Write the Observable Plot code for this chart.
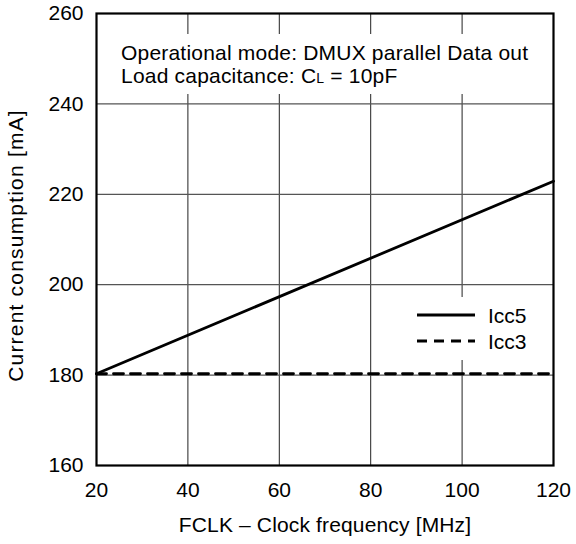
<!DOCTYPE html>
<html><head><meta charset="utf-8">
<script src="https://cdn.jsdelivr.net/npm/d3@7"></script>
<script src="https://cdn.jsdelivr.net/npm/@observablehq/plot@0.6"></script>
<style>
body{margin:0;background:#fff}
#chart svg{font-family:"Liberation Sans",Arial,sans-serif;}
</style>
</head><body><div id="chart"></div>
<script>
// ---- data ----
const freq = [20, 120];                 // MHz
const icc5 = [180.3, 222.9];            // mA
const icc3 = [180.3, 180.3];            // mA
const seriesNames = ["Icc5", "Icc3"];
const xTicks = [20, 40, 60, 80, 100, 120];
const yTicks = [160, 180, 200, 220, 240, 260];
const xLabel = "FCLK – Clock frequency [MHz]";
const yLabel = "Current consumption [mA]";
const noteLine1 = "Operational mode: DMUX parallel Data out";
const noteLine2 = ["Load capacitance: C", "L", " = 10pF"];

const rows = freq.flatMap((f, i) => [
  {f, v: icc5[i], s: seriesNames[0]},
  {f, v: icc3[i], s: seriesNames[1]}
]);

const W = 576, H = 544;
const mL = 96, mR = 23, mT = 13, mB = 79;

const plot = Plot.plot({
  width: W, height: H,
  marginLeft: mL, marginRight: mR, marginTop: mT, marginBottom: mB,
  style: {fontSize: "21px", fontFamily: "'Liberation Sans', Arial, sans-serif", color: "#000", background: "#fff"},
  x: {domain: [20, 120]},
  y: {domain: [160, 260]},
  marks: [
    Plot.gridX(xTicks, {stroke: "#222", strokeOpacity: 1, strokeWidth: 1}),
    Plot.gridY(yTicks, {stroke: "#555", strokeOpacity: 1, strokeWidth: 1.2}),
    Plot.line(rows.filter(d => d.s === "Icc3"), {x: "f", y: "v", stroke: "#000", strokeWidth: 2.8, strokeDasharray: "10,7"}),
    Plot.line(rows.filter(d => d.s === "Icc5"), {x: "f", y: "v", stroke: "#000", strokeWidth: 2.8}),
    Plot.frame({stroke: "#000", strokeWidth: 2.2}),
    Plot.axisX(xTicks, {tickSize: 0, tickPadding: 17, fontSize: 21, label: xLabel, labelAnchor: "center", labelOffset: 66, labelArrow: "none"}),
    Plot.axisY(yTicks, {tickSize: 0, tickPadding: 13, fontSize: 21, label: yLabel, labelAnchor: "center", labelOffset: 88, labelArrow: "none"})
  ]
});
document.getElementById("chart").appendChild(plot);

// ---- annotation & legend ----
const svg = d3.select(plot);
const x = plot.scale("x");
const fx0 = x.apply(20), fx1 = x.apply(120);

// y-axis label: slightly wider tracking, centred a bit lower like the reference
svg.selectAll('[aria-label="y-axis label"] text').style("letter-spacing", "1.2px").attr("dx", -6);
svg.selectAll('[aria-label="x-axis label"] text').style("letter-spacing", "0.15px");

// annotation
const ann = svg.append("g").attr("class", "note");
const annRect = ann.append("rect").style("fill", "#ffffff").style("stroke", "none");
const annText = ann.append("text").attr("font-size", 21).attr("text-anchor", "start")
  .style("fill", "#000").style("letter-spacing", "0.2px");
annText.append("tspan").attr("x", fx0 + 25).attr("y", 60).text(noteLine1);
const l2 = annText.append("tspan").attr("x", fx0 + 25).attr("y", 83);
l2.append("tspan").text(noteLine2[0]);
l2.append("tspan").attr("font-size", 14).text(noteLine2[1]);
l2.append("tspan").text(noteLine2[2]);
let bb;
try { bb = annText.node().getBBox(); } catch (e) { bb = null; }
if (!bb || !(bb.height > 0)) bb = {y: 41, height: 47};
annRect.attr("x", fx0 + 1).attr("width", fx1 - fx0 - 2)
  .attr("y", bb.y - 7).attr("height", bb.height + 14);

// legend
const leg = svg.append("g").attr("class", "legend");
leg.append("rect").style("fill", "#ffffff").style("stroke", "none")
  .attr("x", 405).attr("width", fx1 - 1 - 405).attr("y", 297).attr("height", 63);
seriesNames.forEach((name, i) => {
  const yy = 315 + i * 26;
  leg.append("line").attr("x1", 417).attr("x2", 475).attr("y1", yy).attr("y2", yy)
    .style("stroke", "#000").attr("stroke-width", 2.8)
    .attr("stroke-dasharray", i === 1 ? "10,7" : null);
  leg.append("text").attr("x", 488).attr("y", yy).attr("dy", "0.36em")
    .attr("text-anchor", "start").attr("font-size", 21).style("fill", "#000").text(name);
});

// keep the data lines and the frame on top
svg.selectAll('g[aria-label="line"]').raise();
svg.selectAll('[aria-label="frame"]').raise();
</script>
</body></html>
